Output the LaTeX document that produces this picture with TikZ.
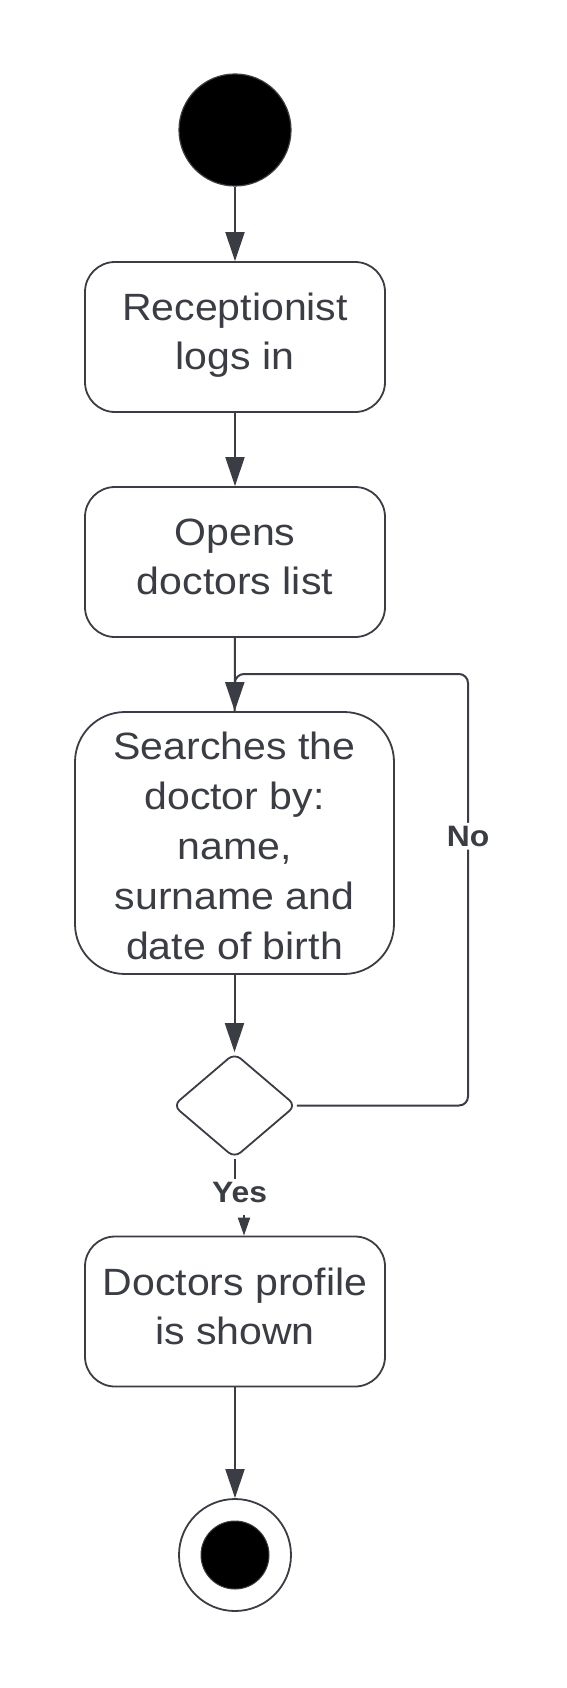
\documentclass[tikz,border=0pt]{standalone}
\usepackage{fontspec}
\setmainfont[FakeStretch=1.08]{Liberation Sans}
\usetikzlibrary{shapes.geometric,arrows.meta}
\definecolor{ink}{RGB}{58,61,68}
\newcommand{\dn}[1]{\rule[-#1]{0pt}{0pt}}
\begin{document}
\begin{tikzpicture}[x=1pt,y=-1pt,
  every node/.style={text=ink},
  actbox/.style={draw=ink,line width=1.8pt,fill=white,rounded corners=30pt,
    minimum width=300pt,minimum height=150pt,inner sep=0pt,align=center,
    font=\fontsize{38}{49}\selectfont},
  flow/.style={draw=ink,line width=2pt,-{Triangle[length=29pt,width=19pt]}},
  plain/.style={draw=ink,line width=2pt},
  lbl/.style={fill=white,inner sep=3pt,font=\fontsize{29.5}{35}\selectfont\bfseries}]
\useasboundingbox (0,0) rectangle (566,1688);
\fill[white] (0,0) rectangle (566,1688);
\node[circle,fill=black,draw=ink,line width=1.2pt,minimum size=112pt,inner sep=0pt] (start) at (235,130) {};
\node[actbox] (b1) at (235,337) {Receptionist\\logs in\dn{12pt}};
\node[actbox] (b2) at (235,562) {Opens\\doctors list\dn{11pt}};
\node[actbox,rounded corners=50pt,minimum width=319pt,minimum height=262pt,font=\fontsize{38}{50}\selectfont] (b3) at (234.5,843) {\rule{0pt}{34pt}Searches the\\doctor by:\\name,\\surname and\\date of birth};
\node[diamond,draw=ink,line width=1.8pt,fill=white,rounded corners=8pt,minimum width=123pt,minimum height=105pt,inner sep=0pt] (dia) at (234.5,1105.5) {};
\node[actbox] (b4) at (235,1311.5) {Doctors profile\\is shown\dn{11pt}};
\node[circle,draw=ink,line width=1.8pt,fill=white,minimum size=112pt,inner sep=0pt] (endo) at (235,1555) {};
\node[circle,fill=black,draw=ink,line width=1pt,minimum size=68pt,inner sep=0pt] (endi) at (235,1555) {};
\coordinate (loopTR) at (468,674);
\coordinate (loopTL) at (235,674);
\draw[flow] (start) -- (b1);
\draw[flow] (b1) -- (b2);
\draw[flow] (b2) -- (b3);
\draw[flow] (b3) -- (dia);
\draw[plain,rounded corners=9pt] (dia.east) -| node[pos=0.812,lbl]{No} (loopTR) -- (loopTL) -- (b3.north);
\node[lbl] (yes) at (239.5,1192) {Yes};
\draw[plain] (dia.south) -- (dia.south |- yes.north);
\coordinate (yt) at (244,1215);
\draw[draw=ink,line width=2pt,-{Triangle[length=18pt,width=12pt]}] (yt) -- (yt |- b4.north);
\draw[flow] (b4) -- (endo);
\end{tikzpicture}
\end{document}
